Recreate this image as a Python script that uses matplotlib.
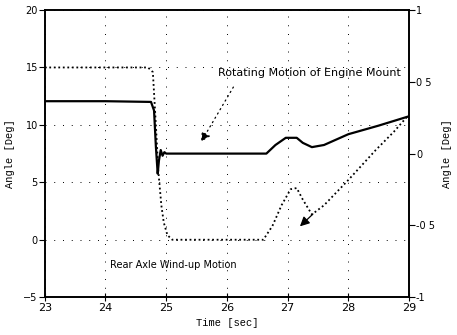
import matplotlib
matplotlib.use("Agg")
import matplotlib.pyplot as plt

# Rear axle wind-up motion (left axis, deg)
t_axle = [23.0, 24.7, 24.78, 24.83, 24.87, 24.92, 24.96, 25.02, 25.1, 26.0,
          26.6, 26.75, 26.9, 27.05, 27.15, 27.25, 27.4, 27.6, 28.0, 28.45,
          28.75, 29.0]
axle = [15.0, 15.0, 14.6, 10.0, 6.0, 3.0, 1.5, 0.4, 0.0, 0.0,
        0.0, 1.2, 3.0, 4.4, 4.5, 3.5, 2.2, 3.0, 5.2, 7.8,
        9.4, 10.9]

# Rotating motion of engine mount (right axis, deg)
t_engine = [23.0, 24.0, 24.75, 24.8, 24.83, 24.86, 24.88, 24.91, 24.94, 24.97,
            25.0, 26.0, 26.65, 26.8, 26.97, 27.15, 27.25, 27.4, 27.6, 28.0,
            28.5, 29.0]
engine = [0.365, 0.365, 0.36, 0.3, 0.05, -0.14, -0.05, 0.025, -0.015, 0.01,
          0.0, 0.0, 0.0, 0.06, 0.11, 0.11, 0.075, 0.045, 0.06, 0.135,
          0.195, 0.26]

x_ticks = [23, 24, 25, 26, 27, 28, 29]
left_ticks = [-5, 0, 5, 10, 15, 20]
right_ticks = [-1, -0.5, 0, 0.5, 1]
right_labels = ["-1", "-0 5", "0", "0 5", "1"]

fig = plt.figure(figsize=(4.57, 3.35), dpi=100)
ax = fig.add_axes([0.098, 0.113, 0.797, 0.857])
ax2 = ax.twinx()

ax.plot(t_axle, axle, color="black", lw=1.3, linestyle=(0, (1, 1.5)))
ax2.plot(t_engine, engine, color="black", lw=1.6)

ax.set_xlim(23, 29)
ax.set_ylim(-5, 20)
ax2.set_ylim(-1, 1)
ax.set_xticks(x_ticks)
ax.set_yticks(left_ticks)
ax2.set_yticks(right_ticks)
ax2.set_yticklabels(right_labels)

ax.grid(True, color="black", lw=0.7, linestyle=(0, (1, 8)))

for a in (ax, ax2):
    for s in a.spines.values():
        s.set_linewidth(1.2)
ax.tick_params(axis="x", direction="inout", length=6, labelsize=8, pad=1)
ax.tick_params(axis="y", direction="out", length=4, labelsize=7, pad=1)
ax2.tick_params(axis="y", direction="out", length=4, labelsize=7, pad=1)

mono = "Liberation Mono"
ax.set_xlabel("Time [sec]", family=mono, fontsize=7.5, labelpad=4)
ax.set_ylabel("Angle [Deg]", family=mono, fontsize=7.5, labelpad=6)
ax2.set_ylabel("Angle [Deg]", family=mono, fontsize=7.5, labelpad=5, rotation=90)

ax.text(25.85, 14.5, "Rotating Motion of Engine Mount", fontsize=8,
        va="center", ha="left")
ax.text(24.07, -2.2, "Rear Axle Wind-up Motion", fontsize=7,
        va="center", ha="left")

ax.annotate("", xy=(25.55, 8.3), xytext=(26.13, 13.5),
            arrowprops=dict(arrowstyle="-|>", color="black", lw=0.9,
                            linestyle=(0, (1, 3)), mutation_scale=14))
ax.annotate("", xy=(27.17, 1.0), xytext=(27.45, 2.4),
            arrowprops=dict(arrowstyle="-|>", color="black", lw=0.9,
                            mutation_scale=14))

fig.savefig("out.png", dpi=100)
